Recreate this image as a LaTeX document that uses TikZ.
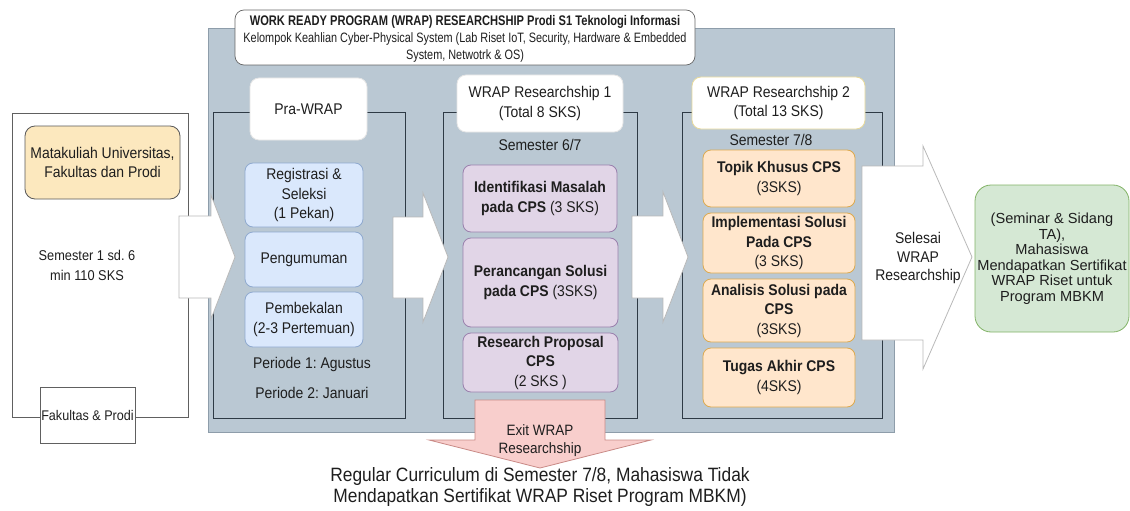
\documentclass[tikz,border=0pt]{standalone}
\usepackage{fontspec}
\setmainfont{Liberation Sans}[FakeStretch=0.9]
\newfontfamily\condfont{Liberation Sans}[FakeStretch=0.8]
\newfontfamily\plainfont{Liberation Sans}
\frenchspacing
\definecolor{panelF}{HTML}{BAC8D3}
\definecolor{panelD}{HTML}{8E9DAA}
\definecolor{frameD}{HTML}{2E3A45}
\definecolor{blueF}{HTML}{DAE8FC}
\definecolor{blueD}{HTML}{8FA9CF}
\definecolor{purF}{HTML}{E1D5E7}
\definecolor{purD}{HTML}{9A80AD}
\definecolor{orF}{HTML}{FFE6CC}
\definecolor{orD}{HTML}{DDA94E}
\definecolor{grF}{HTML}{D5E8D4}
\definecolor{grD}{HTML}{82B366}
\definecolor{pinkF}{HTML}{F8CECC}
\definecolor{pinkD}{HTML}{C98A86}
\definecolor{tanF}{HTML}{FCE8BE}
\definecolor{yelD}{HTML}{E8DA9A}
\definecolor{txt}{HTML}{1E1E1E}
\begin{document}
\begin{tikzpicture}[x=1pt,y=-1pt,
  txtstyle/.style={align=center, text=txt, inner sep=0pt, font=\fontsize{15.5}{19.5}\selectfont},
  boxbase/.style={txtstyle, draw, line width=0.8pt, rounded corners=8pt},
  bluebox/.style={boxbase, fill=blueF, draw=blueD},
  purbox/.style={boxbase, fill=purF, draw=purD},
  orbox/.style={boxbase, fill=orF, draw=orD},
  labelbox/.style={boxbase, fill=white, draw=white!80!gray, rounded corners=9pt},
  framebox/.style={draw=frameD, line width=0.9pt},
  blockarrow/.style={fill=white, draw=gray!55, line width=0.8pt, line join=miter},
]
\useasboundingbox (0,0) rectangle (1130,511);

% left column: courses before the programme
\draw[draw=gray!75!black, fill=white, line width=0.8pt] (12,113) rectangle (188,417);
\node[boxbase, fill=tanF, draw=gray!70!black, rounded corners=10pt,
      minimum width=155, minimum height=73] (matkul) at (102.5,162.5)
      {Matakuliah Universitas,\\Fakultas dan Prodi};
\node[txtstyle, font=\fontsize{14.2}{20}\selectfont] (sem16) at (87,265) {Semester 1 sd. 6\\min 110 SKS};
\node[txtstyle, draw=gray!75!black, fill=white, line width=0.8pt, font=\fontsize{14}{17}\selectfont,
      minimum width=95, minimum height=56] (fakprodi) at (87.5,415) {Fakultas \& Prodi};

% programme panel
\draw[fill=panelF, draw=panelD, line width=0.8pt] (208,28) rectangle (894,432);
\draw[framebox] (213,112) rectangle (405,418);
\draw[framebox] (443,112) rectangle (637,418);
\draw[framebox] (682,112) rectangle (882,418);

\node[labelbox, minimum width=460, minimum height=55, draw=gray!80!black, line width=0.7pt]
      (titlebox) at (465,37.5) {};
\node[txtstyle, font=\condfont\fontsize{13.6}{16.7}\selectfont] (title) at (465,39)
      {{\fontsize{13.9}{16.7}\selectfont\bfseries WORK READY PROGRAM (WRAP) RESEARCHSHIP Prodi S1 Teknologi Informasi}\\
       Kelompok Keahlian Cyber-Physical System (Lab Riset IoT, Security, Hardware \& Embedded\\
       System, Netwotrk \& OS)};

% Pra-WRAP
\node[labelbox, minimum width=117, minimum height=62] (pra) at (308.5,109) {Pra-WRAP};
\node[bluebox, minimum width=118, minimum height=64] (reg) at (304,195) {Registrasi \&\\Seleksi\\(1 Pekan)};
\node[bluebox, minimum width=118, minimum height=55] (peng) at (304,259.5) {Pengumuman};
\node[bluebox, minimum width=118, minimum height=55] (pemb) at (304,319.5) {Pembekalan\\(2-3 Pertemuan)};
\node[txtstyle] (per1) at (312,364) {Periode 1: Agustus};
\node[txtstyle] (per2) at (312,393) {Periode 2: Januari};

% WRAP Researchship 1
\node[labelbox, minimum width=166, minimum height=57] (w1) at (540,103.5) {WRAP Researchship 1\\(Total 8 SKS)};
\node[txtstyle] (sem67) at (540,145) {Semester 6/7};
\node[purbox, minimum width=154, minimum height=67] (ident) at (540,198.5)
      {\bfseries Identifikasi Masalah\\\textbf{pada CPS} (3 SKS)};
\node[purbox, minimum width=155, minimum height=89] (rancang) at (540.5,282.5)
      {\bfseries Perancangan Solusi\\\textbf{pada CPS} (3SKS)};
\node[purbox, minimum width=155, minimum height=59] (proposal) at (540.5,362.5)
      {\textbf{Research Proposal}\\\textbf{CPS}\\(2 SKS )};

% WRAP Researchship 2
\node[labelbox, draw=yelD, minimum width=173, minimum height=52] (w2) at (778.5,103) {WRAP Researchship 2\\(Total 13 SKS)};
\node[txtstyle] (sem78) at (771,140) {Semester 7/8};
\node[orbox, minimum width=152, minimum height=57] (topik) at (779,178.5) {\textbf{Topik Khusus CPS}\\(3SKS)};
\node[orbox, minimum width=152, minimum height=60] (impl) at (779,243) {\textbf{Implementasi Solusi}\\\textbf{Pada CPS}\\(3 SKS)};
\node[orbox, minimum width=152, minimum height=63] (anal) at (779,310.5) {\textbf{Analisis Solusi pada}\\\textbf{CPS}\\(3SKS)};
\node[orbox, minimum width=152, minimum height=59] (tugas) at (779,377.5) {\textbf{Tugas Akhir CPS}\\(4SKS)};

% block arrows between the stages
\draw[blockarrow] (179,216) -- (211,216) -- (211,195) -- (235,257) -- (211,319) -- (211,298) -- (179,298) -- cycle;
\draw[blockarrow] (393,217) -- (423,217) -- (423,193) -- (448,257) -- (423,322) -- (423,298) -- (393,298) -- cycle;
\draw[blockarrow] (632,216) -- (663,216) -- (663,192) -- (688,257) -- (663,322) -- (663,298) -- (632,298) -- cycle;
\draw[blockarrow] (862,166) -- (923,166) -- (923,146) -- (972,257) -- (923,369) -- (923,340) -- (862,340) -- cycle;
\node[txtstyle, font=\fontsize{15.5}{18.5}\selectfont] (selesai) at (918,258) {Selesai\\WRAP\\Researchship};

% outcome
\node[boxbase, fill=grF, draw=grD, rounded corners=16pt, minimum width=154, minimum height=147,
      font=\plainfont\fontsize{14.6}{15.5}\selectfont] (hasil) at (1052,258.5)
      {(Seminar \& Sidang\\TA),\\Mahasiswa\\Mendapatkan Sertifikat\\WRAP Riset untuk\\Program MBKM};

% exit path
\draw[fill=pinkF, draw=pinkD, line width=0.8pt, line join=miter]
  (475,400) -- (605,400) -- (605,440) -- (651,440) -- (540,468) -- (429,440) -- (475,440) -- cycle;
\node[txtstyle, font=\fontsize{15}{18}\selectfont] (exit) at (540,441) {Exit WRAP\\Researchship};
\node[txtstyle, font=\fontsize{19.3}{20.5}\selectfont] (reguler) at (540,487)
      {Regular Curriculum di Semester 7/8, Mahasiswa Tidak\\Mendapatkan Sertifikat WRAP Riset Program MBKM)};
\end{tikzpicture}
\end{document}
